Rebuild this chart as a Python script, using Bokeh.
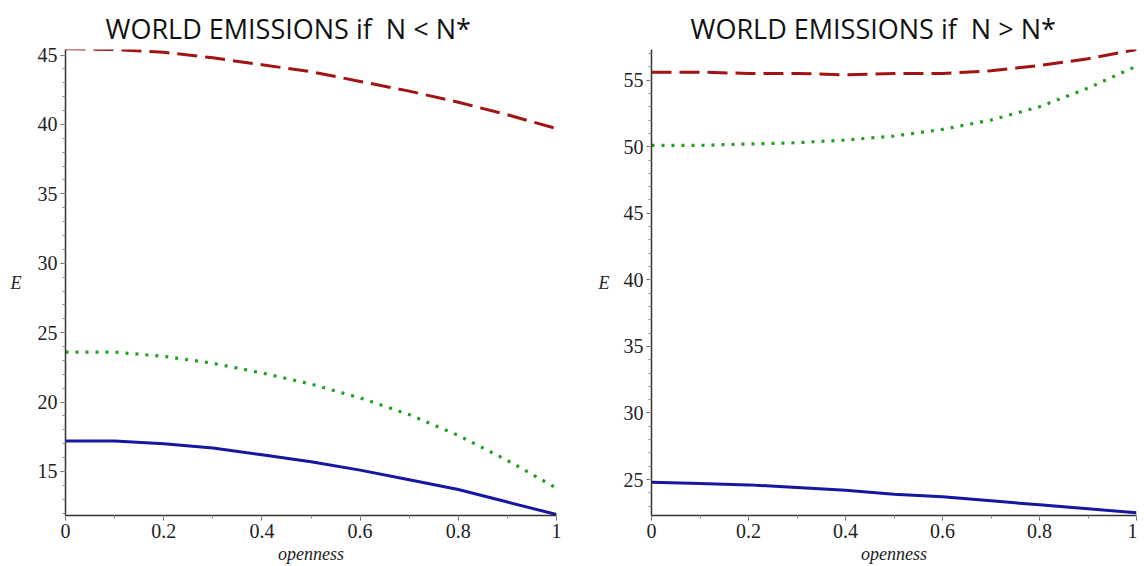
from bokeh.plotting import figure
from bokeh.layouts import row
from bokeh.models import SingleIntervalTicker, CustomJSTickFormatter, Range1d
from bokeh.embed import file_html
from bokeh.resources import INLINE

# openness sample points
openness = [0.0, 0.1, 0.2, 0.3, 0.4, 0.5, 0.6, 0.7, 0.8, 0.9, 1.0]

# Left panel: N < N*
left_red = [45.45, 45.4, 45.2, 44.8, 44.3, 43.8, 43.1, 42.4, 41.6, 40.7, 39.7]
left_green = [23.6, 23.6, 23.3, 22.8, 22.1, 21.3, 20.3, 19.1, 17.6, 15.8, 13.8]
left_blue = [17.2, 17.2, 17.0, 16.7, 16.2, 15.7, 15.1, 14.4, 13.7, 12.8, 11.9]

# Right panel: N > N*
right_red = [55.6, 55.6, 55.5, 55.5, 55.4, 55.5, 55.5, 55.7, 56.1, 56.6, 57.3]
right_green = [50.1, 50.1, 50.2, 50.3, 50.5, 50.8, 51.3, 52.0, 53.0, 54.4, 56.05]
right_blue = [24.8, 24.7, 24.6, 24.4, 24.2, 23.9, 23.7, 23.4, 23.1, 22.8, 22.5]

titles = ["WORLD EMISSIONS if\u00a0 N < N*", "WORLD EMISSIONS if\u00a0 N > N*"]

RED = "#A01414"
GREEN = "#22A022"
BLUE = "#1616A0"

fmt = CustomJSTickFormatter(code="return String(Number(tick.toFixed(2)));")


def make(title, red, green, blue, yr, width, bl, br, bt, std, toff):
    p = figure(width=width, height=566, output_backend="svg", toolbar_location=None,
               x_range=Range1d(0, 1), y_range=Range1d(*yr),
               min_border_left=bl, min_border_right=br, min_border_top=bt,
               min_border_bottom=51)
    p.title.text = title
    p.title.text_font = "Open Sans"
    p.title.text_font_size = "27px"
    p.title.text_font_style = "normal"
    p.title.text_color = "#111111"
    p.title.align = "left"
    p.title.offset = toff
    p.title.standoff = 5
    p.outline_line_color = None
    p.grid.visible = False
    p.background_fill_color = "white"
    p.border_fill_color = "white"

    p.line(openness, red, line_color=RED, line_width=3, line_dash="20 8")
    p.line(openness, green, line_color=GREEN, line_width=3.2, line_dash="3 7")
    p.line(openness, blue, line_color=BLUE, line_width=3)

    p.xaxis.ticker = SingleIntervalTicker(interval=0.2, num_minor_ticks=2)
    p.yaxis.ticker = SingleIntervalTicker(interval=5, num_minor_ticks=5)
    for ax in (p.xaxis, p.yaxis):
        ax.formatter = fmt
        ax.axis_line_color = "#333333"
        ax.axis_line_width = 1.5
        ax.major_tick_line_color = "#666666"
        ax.minor_tick_line_color = "#888888"
        ax.major_tick_out = 5
        ax.major_tick_in = 0
        ax.minor_tick_out = 3
        ax.minor_tick_in = 0
        ax.major_label_text_font = "Liberation Serif"
        ax.major_label_text_font_size = "20px"
        ax.major_label_text_color = "#222222"
        ax.axis_label_text_font = "Liberation Serif"
        ax.axis_label_text_font_style = "italic"
        ax.axis_label_text_font_size = "18px"
        ax.axis_label_text_color = "#222222"
    p.xaxis.axis_label = "openness"
    p.xaxis.axis_label_standoff = 3
    p.xaxis.major_label_standoff = 3
    p.yaxis.axis_label = "E"
    p.yaxis.axis_label_orientation = "horizontal"
    p.yaxis.axis_label_standoff = std
    p.yaxis.major_label_standoff = 3
    return p


p1 = make(titles[0], left_red, left_green, left_blue, (11.83, 45.4), 583, 65, 27, 49, 13, 40)
p2 = make(titles[1], right_red, right_green, right_blue, (22.3, 57.3), 554, 68, 1, 46, 11, 39)

layout = row(p1, p2)
open("out.html", "w").write(file_html(layout, INLINE))
